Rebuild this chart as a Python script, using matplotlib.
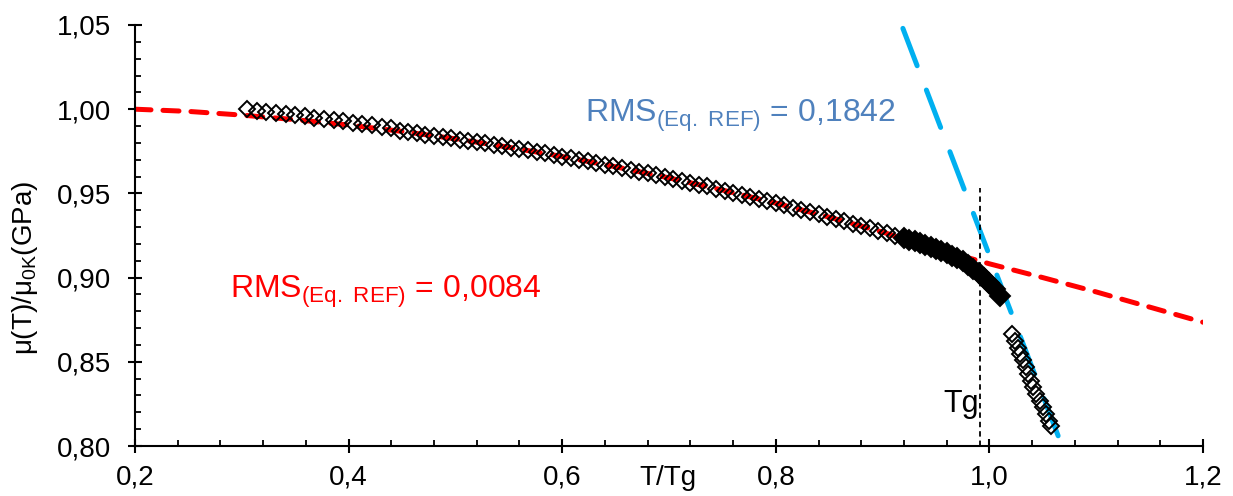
import matplotlib
matplotlib.use("Agg")
import matplotlib.pyplot as plt
from matplotlib.ticker import MultipleLocator, FuncFormatter

plt.rcParams['font.family'] = ['Liberation Sans', 'DejaVu Sans']
plt.rcParams['mathtext.fontset'] = 'custom'
plt.rcParams['mathtext.rm'] = 'Liberation Sans'

# ---- data ----
# measured points (sparse + banded part, hollow diamonds)
meas_x = [0.305, 0.314, 0.323, 0.332, 0.341, 0.350, 0.359, 0.368, 0.377, 0.386,
          0.395, 0.404, 0.413, 0.422, 0.431, 0.440,
          0.448, 0.456, 0.464, 0.472, 0.480, 0.488, 0.496, 0.504, 0.512, 0.520,
          0.528, 0.536, 0.544, 0.552, 0.560, 0.568, 0.576, 0.584, 0.592, 0.600,
          0.608, 0.616, 0.624, 0.632, 0.640, 0.648, 0.656, 0.664, 0.672, 0.680,
          0.688, 0.696, 0.704, 0.712, 0.720, 0.728, 0.736, 0.744, 0.752, 0.760,
          0.768, 0.776, 0.784, 0.792, 0.800, 0.808, 0.816, 0.824, 0.832, 0.840,
          0.848, 0.856, 0.864, 0.872, 0.880, 0.888, 0.896, 0.904, 0.912]
meas_y = [1.0000, 0.9988, 0.9982, 0.9976, 0.9970, 0.9964, 0.9957, 0.9950, 0.9943, 0.9936,
          0.9928, 0.9920, 0.9912, 0.9904, 0.9896, 0.9888,
          0.9869, 0.9863, 0.9856, 0.9849, 0.9842, 0.9835, 0.9827, 0.9820, 0.9812, 0.9805,
          0.9797, 0.9789, 0.9780, 0.9772, 0.9764, 0.9755, 0.9746, 0.9737, 0.9728, 0.9719,
          0.9710, 0.9700, 0.9691, 0.9681, 0.9671, 0.9661, 0.9651, 0.9640, 0.9630, 0.9619,
          0.9608, 0.9597, 0.9586, 0.9575, 0.9564, 0.9552, 0.9541, 0.9529, 0.9517, 0.9505,
          0.9493, 0.9480, 0.9468, 0.9455, 0.9442, 0.9429, 0.9416, 0.9403, 0.9389, 0.9376,
          0.9362, 0.9348, 0.9334, 0.9320, 0.9306, 0.9292, 0.9277, 0.9262, 0.9248]

# dense measurement cluster near Tg (appears solid black)
dense_x = [0.920, 0.925, 0.930, 0.935, 0.940, 0.945, 0.950, 0.955, 0.960, 0.965,
           0.970, 0.975, 0.980, 0.985, 0.990, 0.995, 1.000, 1.005, 1.010]
dense_y = [0.9235, 0.9226, 0.9216, 0.9206, 0.9195, 0.9184, 0.9172, 0.9159, 0.9145, 0.9130,
           0.9114, 0.9096, 0.9076, 0.9053, 0.9027, 0.8998, 0.8966, 0.8930, 0.8890]

# points above Tg
high_x = [1.021, 1.024, 1.027, 1.029, 1.031, 1.034, 1.036, 1.039, 1.041, 1.044,
          1.047, 1.050, 1.053, 1.056, 1.058]
high_y = [0.8665, 0.8625, 0.8580, 0.8545, 0.8510, 0.8470, 0.8425, 0.8385, 0.8350, 0.8310,
          0.8270, 0.8230, 0.8190, 0.8150, 0.8120]

# reference equation fit (red dashed)
ref_x = [0.20, 0.25, 0.30, 0.35, 0.40, 0.45, 0.50, 0.55, 0.60, 0.65, 0.70,
         0.75, 0.80, 0.85, 0.90, 0.95, 1.00, 1.05, 1.10, 1.15, 1.20]
ref_y = [1.0000, 0.9987, 0.9965, 0.9938, 0.9906, 0.9868, 0.9824, 0.9774, 0.9719, 0.9658, 0.9592,
         0.9520, 0.9442, 0.9359, 0.9270, 0.9172, 0.9082, 0.9000, 0.8915, 0.8825, 0.8735]

# linear fit above Tg (blue dashed)
lin_x = [0.919, 1.068]
lin_y = [1.048, 0.800]

tg_x = 0.991
tg_y = [0.800, 0.953]

x_ticks = [0.2, 0.4, 0.6, 0.8, 1.0, 1.2]
y_ticks = [0.80, 0.85, 0.90, 0.95, 1.00, 1.05]

label_red = r'RMS$_{\mathregular{(Eq.\;REF)}}$ = 0,0084'
label_blue = r'RMS$_{\mathregular{(Eq.\;REF)}}$ = 0,1842'

# ---- figure ----
fig = plt.figure(figsize=(12.33, 4.96), dpi=100)
ax = fig.add_axes([135/1233, 1-446/496, 1068/1233, 421/496])

ax.plot(ref_x, ref_y, color='#FF0000', lw=3.6, linestyle=(0, (3.2, 2.4)),
        dash_capstyle='round', zorder=2)
ax.plot(lin_x, lin_y, color='#00B0F0', lw=3.6, linestyle=(0, (8.0, 5.2)),
        dash_capstyle='round', zorder=2)
ax.plot([tg_x, tg_x], tg_y, color='black', lw=1.3, linestyle=(0, (3.0, 2.2)), zorder=2)

ax.plot(meas_x, meas_y, linestyle='none', marker='D', ms=7.8, mfc='none',
        mec='black', mew=1.4, zorder=3)
ax.plot(dense_x, dense_y, linestyle='none', marker='D', ms=10.5, mfc='black',
        mec='black', mew=1.4, zorder=3)
ax.plot(high_x, high_y, linestyle='none', marker='D', ms=8.2, mfc='none',
        mec='black', mew=1.4, zorder=3)

ax.set_xlim(0.2, 1.2)
ax.set_ylim(0.80, 1.05)
ax.set_xticks(x_ticks)
ax.set_yticks(y_ticks)
ax.xaxis.set_minor_locator(MultipleLocator(0.04))
ax.yaxis.set_minor_locator(MultipleLocator(0.01))
ax.xaxis.set_major_formatter(FuncFormatter(lambda v, p: f"{v:.1f}".replace('.', ',')))
ax.yaxis.set_major_formatter(FuncFormatter(lambda v, p: f"{v:.2f}".replace('.', ',')))

for s in ['top', 'right']:
    ax.spines[s].set_visible(False)
for s in ['left', 'bottom']:
    ax.spines[s].set_linewidth(1.5)

ax.tick_params(which='major', direction='inout', length=10, width=1.5,
               labelsize=20, colors='black')
ax.tick_params(axis='x', which='major', pad=8)
ax.tick_params(axis='y', which='major', pad=12)
ax.tick_params(which='minor', direction='in', length=4.5, width=1.3)

ax.set_xlabel('T/Tg', fontsize=20, va='top')
ax.xaxis.set_label_coords(0.499, -0.045)
ax.set_ylabel(r'μ(T)/μ$_{\mathregular{0K}}$(GPa)', fontsize=20, va='center')
ax.yaxis.set_label_coords(-0.103, 0.423)

ax.text(0.289, 0.8879, label_red, color='#FF0000', fontsize=23, va='baseline', ha='left')
ax.text(0.6213, 0.9924, label_blue, color='#4F81BD', fontsize=23, va='baseline', ha='left')
ax.text(0.9566, 0.8202, 'Tg', color='black', fontsize=22, va='baseline', ha='left')

fig.savefig('out.png', dpi=100)
